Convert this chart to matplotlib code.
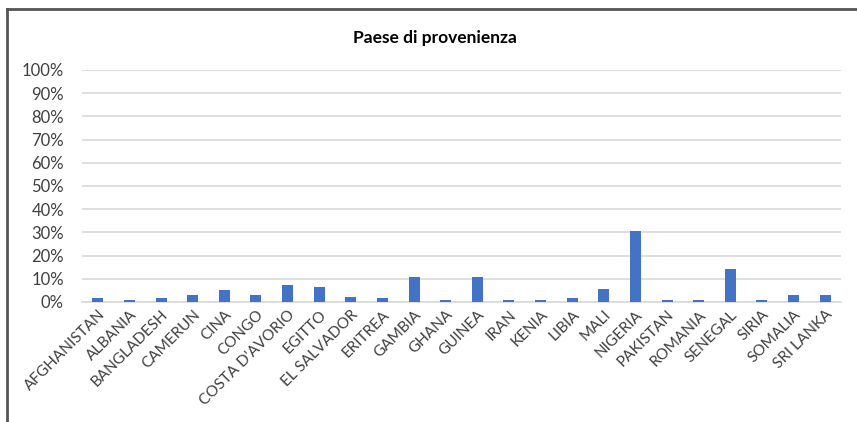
import matplotlib
matplotlib.use("Agg")
import matplotlib.pyplot as plt
from matplotlib.lines import Line2D
from matplotlib.ticker import FuncFormatter

countries = ["AFGHANISTAN", "ALBANIA", "BANGLADESH", "CAMERUN", "CINA", "CONGO",
             "COSTA D'AVORIO", "EGITTO", "EL SALVADOR", "ERITREA", "GAMBIA", "GHANA",
             "GUINEA", "IRAN", "KENIA", "LIBIA", "MALI", "NIGERIA", "PAKISTAN",
             "ROMANIA", "SENEGAL", "SIRIA", "SOMALIA", "SRI LANKA"]
share_pct = [1.6, 0.8, 1.6, 3.2, 5.1, 3.2, 7.4, 6.5, 2.3, 1.6, 10.6, 0.8,
             10.6, 0.8, 0.8, 1.6, 5.8, 30.6, 0.8, 0.8, 14.2, 0.8, 3.2, 3.2]
y_ticks = list(range(0, 101, 10))
title = "Paese di provenienza"

plt.rcParams['font.family'] = ['Lato', 'DejaVu Sans']

fig = plt.figure(figsize=(8.57, 4.22), dpi=100)
ax = fig.add_axes([82 / 857, 1 - 302 / 422, (841 - 82) / 857, (302 - 70) / 422])

x = list(range(len(countries)))
ax.bar(x, share_pct, width=0.35, color="#4472C4", zorder=3)

ax.set_xlim(-0.5, len(countries) - 0.5)
ax.set_ylim(0, 100)
ax.set_yticks(y_ticks)
ax.yaxis.set_major_formatter(FuncFormatter(lambda v, _: f"{int(v)}%"))
ax.grid(axis="y", color="#D9D9D9", linewidth=1.2, zorder=0)
ax.set_axisbelow(True)
for side in ["top", "right", "left"]:
    ax.spines[side].set_visible(False)
ax.spines["bottom"].set_color("#D9D9D9")
ax.spines["bottom"].set_linewidth(1.2)
ax.tick_params(axis="x", length=0, colors="#404040", pad=4)
ax.tick_params(axis="y", length=0, labelsize=12, colors="#404040", pad=13)

ax.set_xticks(x)
ax.set_xticklabels(countries, rotation=45, ha="right", rotation_mode="anchor",
                   fontsize=11, color="#404040")

fig.text(435 / 857, 1 - 38 / 422, title, ha="center", va="center",
         fontsize=12.5, fontweight="bold", color="#000000")

# chart frame (top and left edges)
fig.add_artist(Line2D([7 / 857, 7 / 857], [0, 1 - 9 / 422], transform=fig.transFigure,
                      color="#555555", linewidth=2.0))
fig.add_artist(Line2D([7 / 857, 1], [1 - 9 / 422, 1 - 9 / 422], transform=fig.transFigure,
                      color="#555555", linewidth=2.0))

fig.savefig("out.png", dpi=100)
